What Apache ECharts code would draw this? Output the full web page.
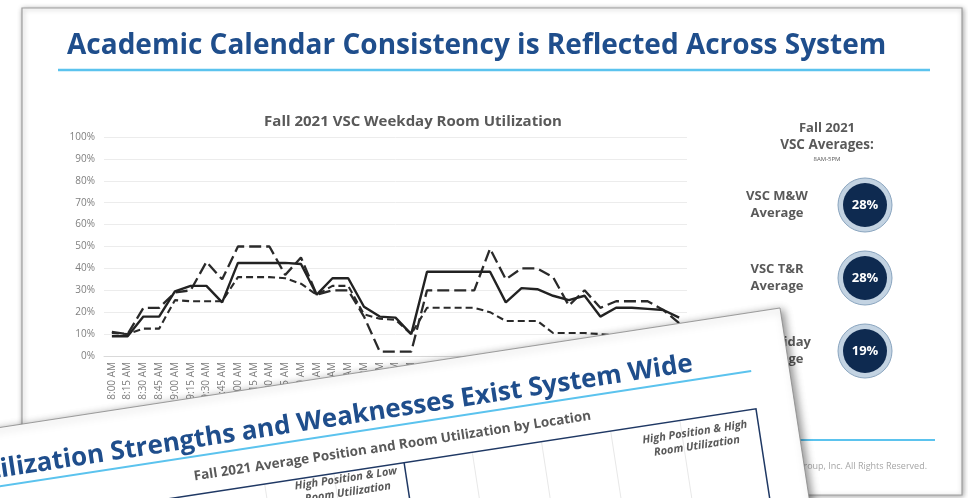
<!DOCTYPE html>
<html>
<head>
<meta charset="utf-8">
<script src="https://cdn.jsdelivr.net/npm/echarts@6/dist/echarts.min.js"></script>
<style>
html, body { margin: 0; padding: 0; background: #fff; }
#chart { width: 968px; height: 498px; }
</style>
</head>
<body>
<div id="chart"></div>
<script>
// 15-minute time slots, 8AM - 5PM
var times = ['8:00 AM', '8:15 AM', '8:30 AM', '8:45 AM', '9:00 AM', '9:15 AM', '9:30 AM', '9:45 AM',
	'10:00 AM', '10:15 AM', '10:30 AM', '10:45 AM', '11:00 AM', '11:15 AM', '11:30 AM', '11:45 AM',
	'12:00 PM', '12:15 PM', '12:30 PM', '12:45 PM', '1:00 PM', '1:15 PM', '1:30 PM', '1:45 PM',
	'2:00 PM', '2:15 PM', '2:30 PM', '2:45 PM', '3:00 PM', '3:15 PM', '3:30 PM', '3:45 PM',
	'4:00 PM', '4:15 PM', '4:30 PM', '4:45 PM', '5:00 PM'];
var yTicks = [0, 10, 20, 30, 40, 50, 60, 70, 80, 90, 100];

// room utilization, percent
var mwUtil = [9, 9, 18, 18, 29.5, 32, 32, 24.5, 42.5, 42.5, 42.5, 42.5, 42, 28, 35.5, 35.5,
	22.5, 18, 17.5, 10, 38.5, 38.5, 38.5, 38.5, 38.5, 24.5, 31, 30.5, 27.5, 25.5, 27.5, 18,
	22, 22, 21.5, 21, 17.5];
var trUtil = [11, 10, 22, 22, 29, 30, 43, 35, 50, 50, 50, 37, 45, 28, 30, 30,
	18, 2, 2, 2, 30, 30, 30, 30, 49, 35, 40, 40, 36, 23, 30, 22,
	25, 25, 25, 21, 15];
var friUtil = [10.5, 10, 12.5, 12.5, 25.5, 25, 25, 25, 36, 36, 36, 35.5, 33, 28, 32, 32,
	19, 17, 16.5, 10, 22, 22, 22, 22, 20, 16, 16, 16, 10.5, 10.5, 10.5, 10,
	9.5, 9, 9, 8.5, 8];

var avgNames = ['VSC M&W\nAverage', 'VSC T&R\nAverage', 'VSC Friday\nAverage'];
var avgValues = [28, 28, 19];

var FONT = '"Open Sans", "Noto Sans", sans-serif';
var BLUE = '#1f4e8c';
var GREY = '#595959';

var chart = echarts.init(document.getElementById('chart'));

// right hand panel: averages
var panel = [];
avgNames.forEach(function (name, i) {
	var cy = 205 + i * 73;
	panel.push({
		type: 'text', x: 777, y: cy, z: 5,
		style: {text: name, fill: GREY, fontSize: 13, fontWeight: 'bold', fontFamily: FONT,
			align: 'center', verticalAlign: 'middle', lineHeight: 17}
	});
	panel.push({
		type: 'circle', z: 5, shape: {cx: 865, cy: cy, r: 27},
		style: {fill: '#c3d3e2', stroke: '#8aa5bf', lineWidth: 1}
	});
	panel.push({
		type: 'circle', z: 6, shape: {cx: 865, cy: cy, r: 22},
		style: {fill: '#0e2a50'}
	});
	panel.push({
		type: 'text', x: 865, y: cy, z: 7,
		style: {text: avgValues[i] + '%', fill: '#fff', fontSize: 13, fontWeight: 'bold', fontFamily: FONT,
			align: 'center', verticalAlign: 'middle'}
	});
});

// second slide laid over the first one, tilted
var frontLines = [-536, -466, -326, -256, -186, -116].map(function (x) {
	return {type: 'line', z: 51, shape: {x1: x, y1: 96, x2: x, y2: 400}, style: {stroke: '#e8e8e8', lineWidth: 1}};
});
var frontSlide = {
	type: 'group', x: 780, y: 308, rotation: 0.152,
	children: [
		{type: 'rect', z: 50, shape: {x: -1200, y: 0, width: 1200, height: 400},
			style: {fill: '#fff', stroke: '#8c8c8c', lineWidth: 0.8, shadowBlur: 8,
				shadowColor: 'rgba(0,0,0,0.45)', shadowOffsetX: 3, shadowOffsetY: 2}},
		{type: 'text', z: 52, x: -95, y: 42,
			style: {text: 'Room Utilization Strengths and Weaknesses Exist System Wide', fill: BLUE,
				fontSize: 26, fontWeight: 'bold', fontFamily: FONT, align: 'right', verticalAlign: 'middle'}},
		{type: 'line', z: 51, shape: {x1: -1200, y1: 58, x2: -38, y2: 58}, style: {stroke: '#5bc3ee', lineWidth: 2}},
		{type: 'text', z: 52, x: -404, y: 78,
			style: {text: 'Fall 2021 Average Position and Room Utilization by Location', fill: GREY,
				fontSize: 13.5, fontWeight: 'bold', fontFamily: FONT, align: 'center', verticalAlign: 'middle'}}
	].concat(frontLines).concat([
		{type: 'polyline', z: 52, shape: {points: [[-1200, 96], [-39, 96], [-39, 400]]},
			style: {stroke: '#1f3864', lineWidth: 1.5, fill: null}},
		{type: 'line', z: 52, shape: {x1: -395, y1: 96, x2: -395, y2: 400}, style: {stroke: '#1f3864', lineWidth: 1.5}},
		{type: 'text', z: 52, x: -455, y: 110,
			style: {text: 'High Position & Low\nRoom Utilization', fill: GREY, fontSize: 11, fontWeight: 'bold',
				fontStyle: 'italic', fontFamily: FONT, align: 'center', verticalAlign: 'middle', lineHeight: 14}},
		{type: 'text', z: 52, x: -103, y: 117,
			style: {text: 'High Position & High\nRoom Utilization', fill: GREY, fontSize: 11, fontWeight: 'bold',
				fontStyle: 'italic', fontFamily: FONT, align: 'center', verticalAlign: 'middle', lineHeight: 14}}
	])
};

var option = {
	animation: false,
	backgroundColor: '#fff',
	title: {
		text: 'Fall 2021 VSC Weekday Room Utilization',
		left: 408, top: 109, textAlign: 'center',
		textStyle: {color: GREY, fontSize: 15, fontWeight: 'bold', fontFamily: FONT}
	},
	grid: {left: 104, right: 281, top: 137, bottom: 142, containLabel: false},
	xAxis: {
		type: 'category',
		data: times,
		boundaryGap: true,
		axisTick: {show: false},
		axisLine: {show: true, lineStyle: {color: '#d9d9d9'}},
		axisLabel: {rotate: 90, interval: 0, margin: 6, fontSize: 10, color: '#7f7f7f', fontFamily: FONT}
	},
	yAxis: {
		type: 'value',
		min: yTicks[0], max: yTicks[yTicks.length - 1], interval: 10,
		axisLine: {show: false},
		axisTick: {show: false},
		axisLabel: {formatter: '{value}%', margin: 9, fontSize: 10, color: '#7f7f7f', fontFamily: FONT},
		splitLine: {lineStyle: {color: '#ececec', width: 1}}
	},
	series: [{
		name: 'VSC M&W', type: 'line', data: mwUtil, symbol: 'none', z: 3,
		lineStyle: {color: '#222', width: 2.4, type: 'solid'}
	}, {
		name: 'VSC T&R', type: 'line', data: trUtil, symbol: 'none', z: 2,
		lineStyle: {color: '#2a2a2a', width: 2.3, type: [12, 5]}
	}, {
		name: 'VSC Friday', type: 'line', data: friUtil, symbol: 'none', z: 2,
		lineStyle: {color: '#2a2a2a', width: 2.1, type: [7, 4]}
	}],
	graphic: {
		elements: [
			{type: 'rect', z: -10, shape: {x: 22, y: 8, width: 940, height: 487},
				style: {fill: '#fff', stroke: '#9e9e9e', lineWidth: 1.2, shadowBlur: 5,
					shadowColor: 'rgba(0,0,0,0.35)', shadowOffsetX: 1, shadowOffsetY: 1}},
			{type: 'text', x: 67, y: 46, z: 5,
				style: {text: 'Academic Calendar Consistency is Reflected Across System', fill: BLUE,
					fontSize: 28, fontWeight: 'bold', fontFamily: FONT, align: 'left', verticalAlign: 'middle'}},
			{type: 'line', z: 5, shape: {x1: 58, y1: 70, x2: 930, y2: 70}, style: {stroke: '#5bc3ee', lineWidth: 2.5}},
			{type: 'text', x: 827, y: 128, z: 5,
				style: {text: 'Fall 2021', fill: GREY, fontSize: 13, fontWeight: 'bold', fontFamily: FONT,
					align: 'center', verticalAlign: 'middle'}},
			{type: 'text', x: 827, y: 145, z: 5,
				style: {text: 'VSC Averages:', fill: GREY, fontSize: 13.5, fontWeight: 'bold', fontFamily: FONT,
					align: 'center', verticalAlign: 'middle'}},
			{type: 'text', x: 827, y: 159, z: 5,
				style: {text: '8AM-5PM', fill: GREY, fontSize: 6, fontFamily: FONT,
					align: 'center', verticalAlign: 'middle'}},
			{type: 'line', z: 5, shape: {x1: 58, y1: 440, x2: 935, y2: 440}, style: {stroke: '#5bc3ee', lineWidth: 2}},
			{type: 'text', x: 927, y: 466, z: 5,
				style: {text: '© 2021 Group, Inc. All Rights Reserved.', fill: '#a6a6a6', fontSize: 9, fontFamily: FONT,
					align: 'right', verticalAlign: 'middle'}}
		].concat(panel).concat([frontSlide])
	}
};
chart.setOption(option);
</script>
</body>
</html>
